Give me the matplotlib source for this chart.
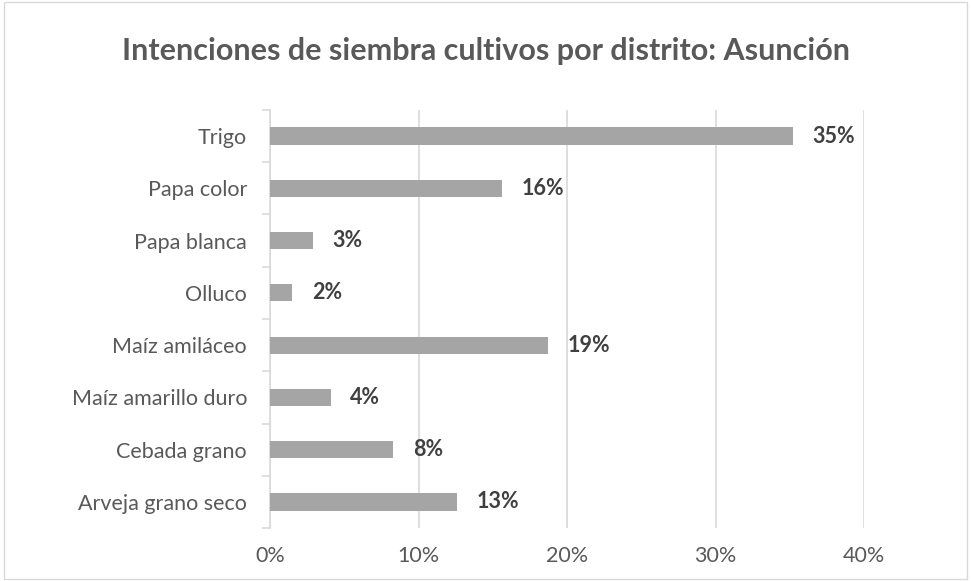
import matplotlib
matplotlib.use("Agg")
import matplotlib.pyplot as plt
from matplotlib.patches import Rectangle
from matplotlib.ticker import FuncFormatter, MultipleLocator

plt.rcParams["font.family"] = ["Lato", "DejaVu Sans"]

# crops, bottom to top as they stack on the axis
cultivos = [
    "Arveja grano seco",
    "Cebada grano",
    "Maíz amarillo duro",
    "Maíz amiláceo",
    "Olluco",
    "Papa blanca",
    "Papa color",
    "Trigo",
]
porcentajes = [12.6, 8.3, 4.1, 18.7, 1.5, 2.9, 15.6, 35.2]

titulo = "Intenciones de siembra cultivos por distrito: Asunción"

texto_gris = "#595959"

fig = plt.figure(figsize=(9.71, 5.81), dpi=100)
fig.patches.append(Rectangle((0.004, 0.004), 0.992, 0.992, transform=fig.transFigure,
                             fill=False, edgecolor="#D9D9D9", linewidth=1))
ax = fig.add_axes([0.278, 0.0912, 0.612, 0.7195])

pos = range(len(cultivos))
ax.barh(pos, porcentajes, height=0.33, color="#A5A5A5", zorder=3)

for y, v in zip(pos, porcentajes):
    ax.annotate(f"{v:.0f}%", (v, y), xytext=(14, 0), textcoords="offset points",
                ha="left", va="center", fontsize=15.5, fontweight="bold", color="#404040")

ax.set_xlim(0, 40)
ax.set_ylim(-0.5, len(cultivos) - 0.5)
ax.xaxis.set_major_locator(MultipleLocator(10))
ax.xaxis.set_major_formatter(FuncFormatter(lambda x, _: f"{x:.0f}%"))
ax.grid(axis="x", color="#D9D9D9", linewidth=1.2, zorder=0)

ax.set_yticks(list(pos))
ax.set_yticklabels(cultivos)
ax.set_yticks([i - 0.5 for i in range(len(cultivos) + 1)], minor=True)
ax.tick_params(axis="y", which="major", length=0, pad=16.5, labelsize=15.5, labelcolor=texto_gris)
ax.tick_params(axis="y", which="minor", length=6, color="#D9D9D9", width=1.2)
ax.tick_params(axis="x", length=0, pad=13, labelsize=15.5, labelcolor=texto_gris)

for lado in ["top", "right", "bottom"]:
    ax.spines[lado].set_visible(False)
ax.spines["left"].set_color("#D9D9D9")
ax.spines["left"].set_linewidth(1.2)

fig.text(0.5, 1 - 51 / 581, titulo, ha="center", va="center",
         fontsize=22, fontweight="bold", color=texto_gris)

fig.savefig("out.png", dpi=100)
